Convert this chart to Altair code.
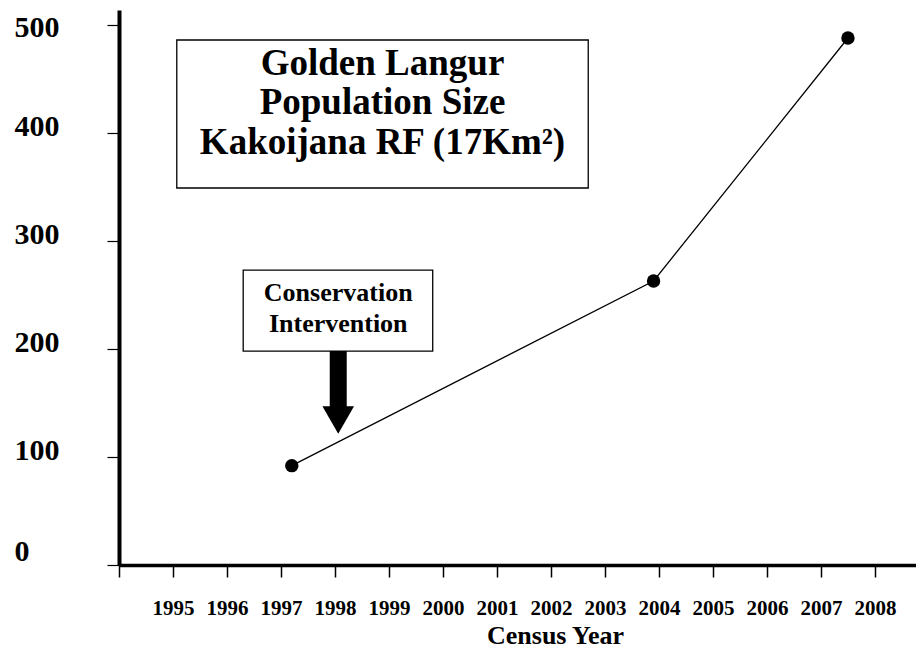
import altair as alt
import pandas as pd

# ---- data ----
census_year = [1997.2, 2003.9, 2007.5]
population = [92, 263, 488]

x_ticks = list(range(1994, 2009))
y_ticks = [0, 100, 200, 300, 400, 500]

title_lines = ["Golden Langur", "Population Size", "Kakoijana RF (17Km²)"]
title_line_y = [464, 428, 391]
note_lines = ["Conservation", "Intervention"]
note_line_y = [252, 223]

FONT = "Liberation Serif"

df = pd.DataFrame({"year": census_year, "pop": population})

x_scale = alt.Scale(domain=[1994, 2008.76], nice=False, zero=False)
y_scale = alt.Scale(domain=[0, 513.9], nice=False, zero=True)

x_axis = alt.Axis(
    values=x_ticks, format="d",
    labelExpr="datum.value == 1994 ? '' : datum.label",
    grid=False, domainColor="black", domainWidth=3.5,
    tickColor="black", tickWidth=1.5, tickSize=12,
    labelFont=FONT, labelFontWeight="bold", labelFontSize=21, labelColor="black",
    labelPadding=20, labelFlush=False, labelOverlap=False,
    title="Census Year", titleFont=FONT, titleFontWeight="bold", titleFontSize=26,
    titleColor="black", titleX=436, titleY=78, titleAlign="center",
    titleBaseline="alphabetic",
)
y_axis = alt.Axis(
    values=y_ticks, format="d",
    grid=False, domainColor="black", domainWidth=4,
    tickColor="black", tickWidth=1.2, tickSize=12,
    labelFont=FONT, labelFontWeight="bold", labelFontSize=30, labelColor="black",
    labelAlign="left", labelBaseline="middle", labelPadding=93,
    labelOffset={"condition": [{"test": "datum.value == 0", "value": -14},
                               {"test": "datum.value == 500", "value": 2}],
                 "value": -7},
    labelFlush=False, labelOverlap=False,
)

base = alt.Chart(df)

line = base.mark_line(color="black", strokeWidth=1.3).encode(
    x=alt.X("year:Q", scale=x_scale, axis=x_axis),
    y=alt.Y("pop:Q", scale=y_scale, axis=y_axis, title=None),
)
points = base.mark_circle(color="black", opacity=1, size=180).encode(
    x=alt.X("year:Q", scale=x_scale),
    y=alt.Y("pop:Q", scale=y_scale),
)

# title box
tbox = pd.DataFrame({"x": [1995.07], "x2": [2002.69], "y": [486.1], "y2": [349.1]})
title_rect = alt.Chart(tbox).mark_rect(fill="white", stroke="black", strokeWidth=1.3).encode(
    x=alt.X("x:Q", scale=x_scale), x2="x2:Q",
    y=alt.Y("y:Q", scale=y_scale), y2="y2:Q",
)
tdf = pd.DataFrame({"x": [1998.88] * 3, "y": title_line_y, "t": title_lines})
title_text = alt.Chart(tdf).mark_text(
    font=FONT, fontWeight="bold", fontSize=37, color="black",
    align="center", baseline="middle",
).encode(
    x=alt.X("x:Q", scale=x_scale), y=alt.Y("y:Q", scale=y_scale), text="t:N"
)

# conservation note box
nbox = pd.DataFrame({"x": [1996.30], "x2": [1999.81], "y": [273.1], "y2": [198.1]})
note_rect = alt.Chart(nbox).mark_rect(fill="white", stroke="black", strokeWidth=1.3).encode(
    x=alt.X("x:Q", scale=x_scale), x2="x2:Q",
    y=alt.Y("y:Q", scale=y_scale), y2="y2:Q",
)
ndf = pd.DataFrame({"x": [1998.06] * 2, "y": note_line_y, "t": note_lines})
note_text = alt.Chart(ndf).mark_text(
    font=FONT, fontWeight="bold", fontSize=26, color="black",
    align="center", baseline="middle",
).encode(
    x=alt.X("x:Q", scale=x_scale), y=alt.Y("y:Q", scale=y_scale), text="t:N"
)

# arrow
shaft_df = pd.DataFrame({"x": [1998.06], "y": [198.1], "y2": [143.5]})
shaft = alt.Chart(shaft_df).mark_rule(color="black", strokeWidth=17).encode(
    x=alt.X("x:Q", scale=x_scale), y=alt.Y("y:Q", scale=y_scale), y2="y2:Q"
)
head_df = pd.DataFrame({"x": [1998.06], "y": [134.3]})
head = alt.Chart(head_df).mark_point(
    shape="triangle-down", filled=True, color="black", opacity=1, size=1000
).encode(
    x=alt.X("x:Q", scale=x_scale), y=alt.Y("y:Q", scale=y_scale)
)

chart = alt.layer(
    title_rect, title_text, note_rect, note_text, shaft, head, line, points
).properties(
    width=797, height=555,
    autosize=alt.AutoSizeParams(type="none"),
    padding={"left": 111, "top": 2, "right": 0, "bottom": 84},
    background="white",
).configure_view(stroke=None)

chart.save("out.html", embed_options={"renderer": "svg", "actions": False})
